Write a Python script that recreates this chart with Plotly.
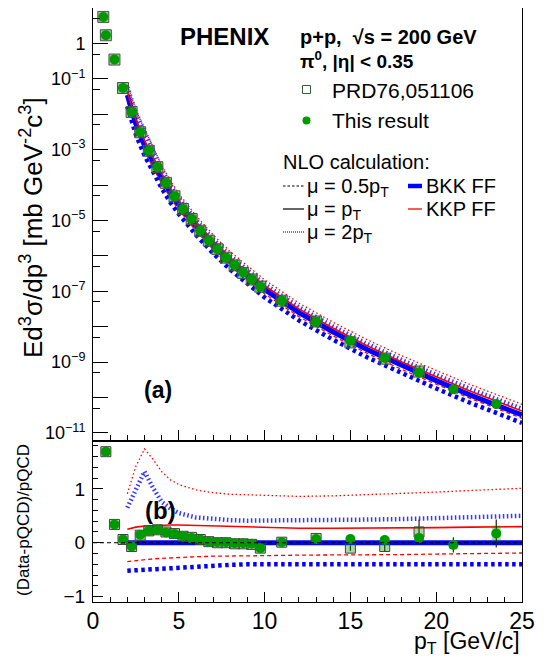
import plotly.graph_objects as go
from plotly.subplots import make_subplots

# ── data ────────────────────────────────────────────────────────────────────

# this result: invariant cross section  Ed3s/dp3  [mb GeV^-2 c^3]
pt_spec = [0.6, 0.75, 1.25, 1.75, 2.25, 2.75, 3.25, 3.75, 4.25, 4.75, 5.25,
           5.75, 6.25, 6.75, 7.25, 7.75, 8.25, 8.75, 9.25, 9.75, 11, 13, 15,
           17, 19, 21, 23.5]
spec = [5.6, 1.7, 0.35, 0.055, 1.15e-2, 3.1e-3, 9.3e-4, 3.2e-4, 1.15e-4,
        4.8e-5, 2.1e-5, 1.1e-5, 5.1e-6, 2.7e-6, 1.55e-6, 8.9e-7, 5.5e-7,
        3.4e-7, 2.2e-7, 1.35e-7, 5.4e-8, 1.38e-8, 4.0e-9, 1.32e-9, 5.0e-10,
        1.7e-10, 6.6e-11]

# PRD76,051106
prd_pt_spec = [0.6, 0.75, 1.25, 1.75, 2.25, 2.75, 3.25, 3.75, 4.25, 4.75,
               5.25, 5.75, 6.25, 6.75, 7.25, 7.75, 8.25, 8.75, 9.25, 9.75,
               11, 13, 15, 17, 19]
prd_spec = [5.6, 1.7, 0.35, 0.055, 1.15e-2, 3.1e-3, 9.3e-4, 3.2e-4, 1.15e-4,
            4.8e-5, 2.1e-5, 1.1e-5, 5.1e-6, 2.7e-6, 1.55e-6, 8.9e-7, 5.4e-7,
            3.3e-7, 2.15e-7, 1.35e-7, 5.4e-8, 1.4e-8, 3.6e-9, 1.25e-9, 5.4e-10]

# (Data-pQCD)/pQCD
pt_ratio = [0.75, 1.25, 1.75, 2.25, 2.75, 3.25, 3.75, 4.25, 4.75, 5.25, 5.75,
            6.25, 6.75, 7.25, 7.75, 8.25, 8.75, 9.25, 9.75, 11, 13, 15, 17,
            19, 21, 23.5]
ratio = [1.69, 0.34, 0.06, -0.07, 0.15, 0.22, 0.24, 0.19, 0.16, 0.12, 0.09,
         0.06, 0.02, 0.01, 0.01, -0.01, -0.01, -0.02, -0.10, 0.01, 0.07, 0.07,
         0.05, 0.09, -0.04, 0.17]
ratio_stat = [0.03, 0.02, 0.01, 0.01, 0.01, 0.01, 0.01, 0.01, 0.01, 0.01,
              0.01, 0.01, 0.01, 0.01, 0.01, 0.01, 0.01, 0.01, 0.02, 0.02,
              0.03, 0.04, 0.07, 0.06, 0.14, 0.26]
ratio_sys = [0.07, 0.05, 0.04, 0.04, 0.04, 0.04, 0.04, 0.04, 0.04, 0.04,
             0.04, 0.04, 0.04, 0.04, 0.04, 0.04, 0.04, 0.04, 0.04, 0.04,
             0.05, 0.06, 0.06, 0.07, 0.08, 0.15]

prd_pt_ratio = [0.75, 1.25, 1.75, 2.25, 2.75, 3.25, 3.75, 4.25, 4.75, 5.25,
                5.75, 6.25, 6.75, 7.25, 7.75, 8.25, 8.75, 9.25, 9.75, 11, 13,
                15, 17, 19]
prd_ratio = [1.69, 0.34, 0.06, -0.07, 0.14, 0.22, 0.24, 0.20, 0.17, 0.12,
             0.10, 0.06, 0.02, 0.00, 0.00, -0.02, -0.02, -0.03, -0.10, 0.01,
             0.08, -0.10, -0.07, 0.20]
prd_stat = [0.03, 0.02, 0.01, 0.01, 0.01, 0.01, 0.01, 0.01, 0.01, 0.01,
            0.01, 0.01, 0.01, 0.01, 0.01, 0.01, 0.01, 0.01, 0.02, 0.02,
            0.03, 0.05, 0.09, 0.23]

# NLO pQCD
th_pt = [2, 2.5, 3, 3.5, 4, 4.5, 5, 6, 7, 8, 9, 10, 12, 14, 16, 18, 20, 22, 25]
bkk_mu1 = [3.5e-2, 5.4e-3, 1.38e-3, 4.4e-4, 1.58e-4, 6.2e-5, 2.75e-5, 6.9e-6,
           2.04e-6, 6.9e-7, 2.7e-7, 1.12e-7, 2.5e-8, 7.1e-9, 2.24e-9, 7.9e-10,
           3.0e-10, 1.17e-10, 3.2e-11]
# curves relative to BKK, mu = pT
r_bkk_mu1 = [0.0] * len(th_pt)
r_bkk_mu05 = [-0.52, -0.51, -0.50, -0.49, -0.48, -0.47, -0.45, -0.43, -0.42,
              -0.41, -0.40, -0.40, -0.40, -0.40, -0.40, -0.40, -0.40, -0.40,
              -0.40]
r_bkk_mu2 = [0.65, 1.00, 1.32, 1.02, 0.76, 0.64, 0.55, 0.47, 0.44, 0.42, 0.41,
             0.41, 0.41, 0.42, 0.43, 0.44, 0.46, 0.48, 0.50]
r_kkp_mu1 = [0.25, 0.29, 0.31, 0.32, 0.33, 0.33, 0.33, 0.32, 0.31, 0.30, 0.29,
             0.28, 0.27, 0.27, 0.27, 0.27, 0.28, 0.29, 0.30]
r_kkp_mu05 = [-0.35, -0.33, -0.31, -0.30, -0.29, -0.28, -0.27, -0.26, -0.25,
              -0.25, -0.24, -0.24, -0.23, -0.23, -0.22, -0.22, -0.21, -0.20,
              -0.19]
r_kkp_mu2 = [0.91, 1.42, 1.74, 1.55, 1.32, 1.17, 1.08, 0.98, 0.93, 0.90, 0.89,
             0.88, 0.86, 0.87, 0.89, 0.91, 0.94, 0.97, 1.01]

# ── style ───────────────────────────────────────────────────────────────────

FONT = "Liberation Sans, Arial, Helvetica, sans-serif"
GREEN = "#009a00"
BLUE = "#0000ff"
RED = "#ff0000"

# the page puts the figure 8px in from the top-left corner of the window
OFF = 8
W, H = 550 - OFF, 659 - OFF
L, R, T, B = 93 - OFF, 28, 0, 57
PW, PH = W - L - R, H - T - B


def px(x):
    """window pixel x -> paper x"""
    return (x - OFF - L) / PW


def py(y):
    """window pixel y -> paper y"""
    return (H - B - (y - OFF)) / PH


curves = [
    # ratio, colour, width, dash
    (r_bkk_mu2, "rgba(20,20,255,0.85)", 4.5, "1.5px,2.5px"),
    (r_bkk_mu05, BLUE, 4.5, "3.5px,3.5px"),
    (r_kkp_mu2, RED, 1.3, "1.5px,2.5px"),
    (r_kkp_mu05, RED, 1.3, "4px,3px"),
    (r_bkk_mu1, BLUE, 5, "solid"),
    (r_kkp_mu1, RED, 1.6, "solid"),
]

fig = make_subplots(rows=2, cols=1, shared_xaxes=False)

for r, col, wid, dash in curves:
    top = [b * (1 + v) for b, v in zip(bkk_mu1, r)]
    fig.add_trace(go.Scatter(x=th_pt, y=top, mode="lines",
                             line=dict(color=col, width=wid, dash=dash),
                             showlegend=False, hoverinfo="skip"),
                  row=1, col=1)
    fig.add_trace(go.Scatter(x=th_pt, y=r, mode="lines",
                             line=dict(color=col, width=wid, dash=dash),
                             showlegend=False, hoverinfo="skip"),
                  row=2, col=1)

# --- top panel points ---
fig.add_trace(go.Scatter(
    x=prd_pt_spec, y=prd_spec, mode="markers",
    marker=dict(symbol="square", size=11, color="rgba(0,140,0,0.45)",
                line=dict(color="#505050", width=1)),
    showlegend=False), row=1, col=1)
fig.add_trace(go.Scatter(
    x=pt_spec, y=spec, mode="markers",
    marker=dict(symbol="circle", size=10, color=GREEN),
    showlegend=False), row=1, col=1)

# --- bottom panel points ---
fig.add_trace(go.Scatter(
    x=pt_ratio, y=ratio, mode="markers",
    marker=dict(size=1, color="rgba(0,0,0,0)"),
    error_y=dict(type="data", array=ratio_sys, color="rgba(0,150,0,0.35)",
                 thickness=9, width=0),
    showlegend=False), row=2, col=1)
fig.add_trace(go.Scatter(
    x=prd_pt_ratio, y=prd_ratio, mode="markers",
    marker=dict(symbol="square", size=10, color="rgba(0,140,0,0.35)",
                line=dict(color="#404040", width=1)),
    error_y=dict(type="data", array=prd_stat, color="#222222",
                 thickness=1.2, width=0),
    showlegend=False), row=2, col=1)
fig.add_trace(go.Scatter(
    x=pt_ratio, y=ratio, mode="markers",
    marker=dict(symbol="circle", size=10, color=GREEN),
    error_y=dict(type="data", array=ratio_stat, color="#222222",
                 thickness=1.2, width=0),
    showlegend=False), row=2, col=1)

# empty trace so the extra tick axis (even decades) gets drawn
fig.add_trace(go.Scatter(x=[], y=[], xaxis="x", yaxis="y3",
                         showlegend=False, hoverinfo="skip"))

# ── axes ────────────────────────────────────────────────────────────────────

label_exp = [0, -1, -3, -5, -7, -9, -11]
plain_exp = [1, -2, -4, -6, -8, -10]
y_top_vals = [10.0 ** k for k in label_exp]
y_top_text = ["1" if k == 0 else "10<sup>\u2212%d</sup>" % (-k)
              for k in label_exp]
Y_TOP_RANGE = [-11.2, 1.0]
Y_TOP_DOMAIN = [py(440), 1]

axis_common = dict(showline=True, linecolor="black", linewidth=1,
                   mirror=True, ticks="inside", tickcolor="black",
                   showgrid=False, zeroline=False)

fig.update_xaxes(range=[0, 25], domain=[0, 1], tickvals=[0, 5, 10, 15, 20, 25],
                 ticklen=10, showticklabels=False,
                 minor=dict(dtick=1, ticklen=5, ticks="inside",
                            tickcolor="black", showgrid=False),
                 **axis_common, row=1, col=1)
fig.update_xaxes(range=[0, 25], domain=[0, 1], tickvals=[0, 5, 10, 15, 20, 25],
                 ticklen=10, tickfont=dict(size=23, color="black"),
                 ticklabelstandoff=-2,
                 minor=dict(dtick=1, ticklen=5, ticks="inside",
                            tickcolor="black", showgrid=False),
                 **axis_common, row=2, col=1)
fig.update_yaxes(type="log", range=Y_TOP_RANGE, domain=Y_TOP_DOMAIN,
                 tickmode="array", tickvals=y_top_vals, ticktext=y_top_text,
                 ticklen=15, tickfont=dict(size=18, color="black"),
                 ticklabelstandoff=3,
                 minor=dict(tickmode="array",
                            tickvals=[5 * 10.0 ** k for k in range(-12, 1)],
                            ticklen=7, ticks="inside", tickcolor="black",
                            showgrid=False),
                 **axis_common, row=1, col=1)
fig.update_yaxes(range=[-1.1, 1.87], domain=[0, py(442)],
                 tickvals=[-1, 0, 1], ticktext=["\u22121", "0", "1"],
                 ticklen=10, tickfont=dict(size=19, color="black"),
                 ticklabelstandoff=3,
                 minor=dict(dtick=0.2, ticklen=5, ticks="inside",
                            tickcolor="black", showgrid=False),
                 **axis_common, row=2, col=1)
fig.update_layout(yaxis3=dict(
    overlaying="y", anchor="x", side="left", type="log",
    range=Y_TOP_RANGE, tickmode="array",
    tickvals=[10.0 ** k for k in plain_exp],
    ticks="inside", ticklen=15, tickcolor="black", showticklabels=False,
    showgrid=False, zeroline=False, showline=False))

# ── shapes: zero line + legend symbols ──────────────────────────────────────

shapes = [
    dict(type="line", xref="x2", yref="y2", x0=0, x1=25, y0=0, y1=0,
         line=dict(color="black", width=1, dash="4px,3px"), layer="above"),
    # legend markers
    dict(type="rect", xref="paper", yref="paper",
         x0=px(302.5), x1=px(310.5), y0=py(93.5), y1=py(85.5),
         line=dict(color="#3c5a3c", width=1), fillcolor="white"),
    dict(type="circle", xref="paper", yref="paper",
         x0=px(302.5), x1=px(310.5), y0=py(124.5), y1=py(116.5),
         line=dict(color=GREEN, width=0), fillcolor=GREEN),
    # mu lines
    dict(type="line", xref="paper", yref="paper",
         x0=px(283), x1=px(304), y0=py(186), y1=py(186),
         line=dict(color="black", width=1, dash="2.5px,2px")),
    dict(type="line", xref="paper", yref="paper",
         x0=px(283), x1=px(304), y0=py(209), y1=py(209),
         line=dict(color="black", width=1.2)),
    dict(type="line", xref="paper", yref="paper",
         x0=px(283), x1=px(304), y0=py(232), y1=py(232),
         line=dict(color="black", width=1, dash="1px,1px")),
    # FF lines
    dict(type="line", xref="paper", yref="paper",
         x0=px(408), x1=px(422), y0=py(186), y1=py(186),
         line=dict(color=BLUE, width=4.5)),
    dict(type="line", xref="paper", yref="paper",
         x0=px(408), x1=px(422), y0=py(209), y1=py(209),
         line=dict(color=RED, width=1.3)),
]


def note(text, x, y, size, xanchor="left", angle=0, bold=False):
    if bold:
        text = "<b>" + text + "</b>"
    return dict(text=text, x=px(x), y=py(y), xref="paper", yref="paper",
                xanchor=xanchor, yanchor="middle", showarrow=False,
                textangle=angle, font=dict(size=size, color="black",
                                           family=FONT))


annotations = [
    note("PHENIX", 224, 36, 24, xanchor="center", bold=True),
    note("p+p,  \u221As = 200 GeV", 298, 37, 20, bold=True),
    note("\u03C0<sup>0</sup>, |\u03B7| &lt; 0.35", 298, 60, 19, bold=True),
    note("PRD76,051106", 330, 90, 21),
    note("This result", 330, 121, 21),
    note("NLO calculation:", 281, 162, 20),
    note("\u03BC = 0.5p<sub>T</sub>", 305, 187, 20),
    note("\u03BC = p<sub>T</sub>", 305, 210, 20),
    note("\u03BC = 2p<sub>T</sub>", 305, 233, 20),
    note("BKK FF", 424, 186, 20),
    note("KKP FF", 424, 209, 20),
    note("(a)", 158, 390, 23, xanchor="center", bold=True),
    note("(b)", 160, 510, 24, xanchor="center", bold=True),
    note("Ed<sup>3</sup>\u03C3/dp<sup>3</sup> [mb GeV<sup>-2</sup>c<sup>3</sup>]",
         31, 228, 26, xanchor="center", angle=-90),
    note("(Data-pQCD)/pQCD", 23, 520, 17, xanchor="center", angle=-90),
    note("p<sub>T</sub> [GeV/c]", 522, 642, 23, xanchor="right"),
]

fig.update_layout(
    width=W, height=H,
    margin=dict(l=L, r=R, t=T, b=B),
    paper_bgcolor="white", plot_bgcolor="white",
    font=dict(family=FONT, color="black"),
    showlegend=False,
    shapes=shapes,
    annotations=annotations,
)

fig.write_html("out.html")
